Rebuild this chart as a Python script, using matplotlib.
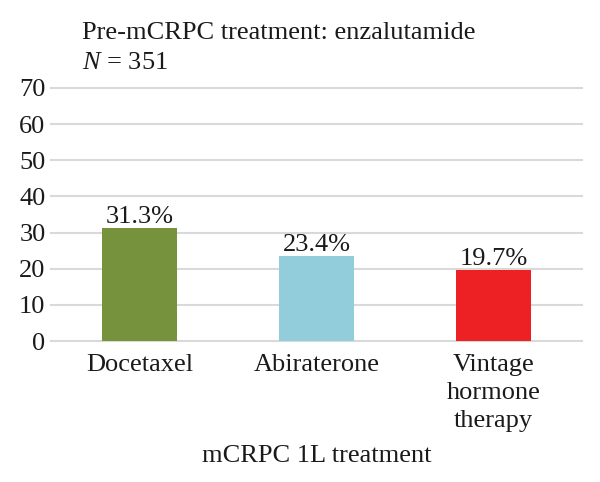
import matplotlib
matplotlib.use('Agg')
import matplotlib.pyplot as plt

plt.rcParams['font.family'] = ['Liberation Serif', 'DejaVu Serif']
plt.rcParams['mathtext.fontset'] = 'custom'
plt.rcParams['mathtext.rm'] = 'Liberation Serif'
plt.rcParams['mathtext.it'] = 'Liberation Serif:italic'

categories = ['Docetaxel', 'Abiraterone', 'Vintage\nhormone\ntherapy']
values = [31.3, 23.4, 19.7]
labels = ['31.3%', '23.4%', '19.7%']
colors = ['#76923c', '#92cddc', '#ed2024']
yticks = [0, 10, 20, 30, 40, 50, 60, 70]

FS = 19

fig = plt.figure(figsize=(6.0, 4.82), dpi=100)
ax = fig.add_axes([0.085, 0.2925, 0.885, 0.525])

x = range(len(categories))
bars = ax.bar(x, values, width=0.425, color=colors, zorder=3)

for b, lab in zip(bars, labels):
    ax.annotate(lab, xy=(b.get_x() + b.get_width() / 2, b.get_height()),
                xytext=(0, 0), textcoords='offset points',
                ha='center', va='bottom', fontsize=FS, color='#1a1a1a')

ax.set_xlim(-0.5, 2.5)
ax.set_ylim(0, 70)
ax.set_yticks(yticks)
ax.set_xticks(list(x))
ax.set_xticklabels(categories, linespacing=1.38)
ax.tick_params(axis='both', length=0, labelsize=FS, colors='#1a1a1a')
ax.tick_params(axis='y', pad=4)
ax.tick_params(axis='x', pad=9)
ax.grid(axis='y', color='#d9d9d9', linewidth=1.5, zorder=0)
for ln in ax.get_ygridlines():
    ln.set_clip_on(False)
for s in ax.spines.values():
    s.set_visible(False)

ax.set_xlabel('mCRPC 1L treatment', fontsize=FS, color='#1a1a1a', labelpad=9)

fig.text(0.137, 0.932, 'Pre-mCRPC treatment: enzalutamide', fontsize=FS,
         ha='left', va='center', color='#1a1a1a')
fig.text(0.137, 0.870, '$N$ = 351', fontsize=FS, ha='left', va='center',
         color='#1a1a1a')

fig.savefig('out.png', dpi=100, facecolor='white')
